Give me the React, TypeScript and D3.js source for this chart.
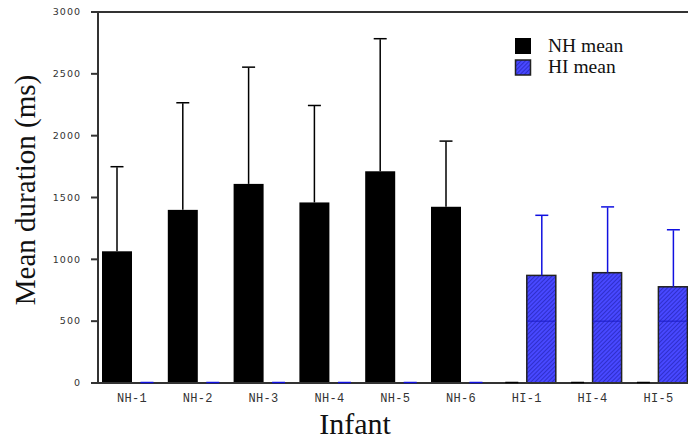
import React from 'react'
import * as d3 from 'd3'

const infants = ['NH-1', 'NH-2', 'NH-3', 'NH-4', 'NH-5', 'NH-6', 'HI-1', 'HI-4', 'HI-5']
const nhMean = [1065, 1400, 1610, 1460, 1712, 1425, 0, 0, 0]
const nhErr = [1745, 2262, 2550, 2240, 2780, 1952, 0, 0, 0]
const hiMean = [0, 0, 0, 0, 0, 0, 870, 892, 778]
const hiErr = [0, 0, 0, 0, 0, 0, 1352, 1420, 1235]
const yTicks = [0, 500, 1000, 1500, 2000, 2500, 3000]
const series = ['NH mean', 'HI mean']

const W = 688
const H = 441
const left = 98
const top = 12
const bottom = 383
const step = 65.8

const App = () => {
  const y = d3.scaleLinear().domain([0, 3000]).range([bottom, top])
  const x0 = d3
    .scaleBand()
    .domain(infants)
    .range([left + 4, left + 4 + step * infants.length])
  const x1 = d3.scaleBand().domain(series).range([0, 60])
  const bw = x1.bandwidth()
  const cap = 6.5

  const rows = infants.map((name, i) => ({
    name,
    nh: nhMean[i],
    nhE: nhErr[i],
    hi: hiMean[i],
    hiE: hiErr[i],
  }))

  return (
    <svg
      width={W}
      height={H}
      style={{position: 'absolute', left: 0, top: 0, background: 'white'}}
    >
      <defs>
        <pattern id="hatch" width="3" height="3" patternUnits="userSpaceOnUse" patternTransform="rotate(45)">
          <rect width="3" height="3" fill="#4848ff" />
          <line x1="0" y1="0" x2="0" y2="3" stroke="#1a1aa0" strokeWidth="1.1" />
        </pattern>
      </defs>

      {/* bars */}
      {rows.map((d) => {
        const gx = x0(d.name)!
        const bx = gx + x1('NH mean')!
        const hx = gx + x1('HI mean')!
        return (
          <g key={d.name}>
            <rect x={bx} y={y(d.nh)} width={bw} height={bottom - y(d.nh)} fill="black" />
            {d.hi > 0 && (
              <g>
                <rect
                  x={hx}
                  y={y(d.hi)}
                  width={bw - 1}
                  height={bottom - y(d.hi)}
                  fill="url(#hatch)"
                  stroke="#222"
                  strokeWidth={1.5}
                />
                <line x1={hx} x2={hx + bw - 1} y1={y(500)} y2={y(500)} stroke="#1c1cc8" strokeWidth={1} />
              </g>
            )}
          </g>
        )
      })}

      {/* frame */}
      <line x1={left} x2={W} y1={top} y2={top} stroke="#333" strokeWidth={2} />
      <line x1={left} x2={W} y1={bottom} y2={bottom} stroke="#333" strokeWidth={2} />
      <line x1={left} x2={left} y1={top - 1} y2={bottom + 1} stroke="#333" strokeWidth={2} />

      {/* error bars */}
      {rows.map((d) => {
        const gx = x0(d.name)!
        const bc = gx + x1('NH mean')! + bw / 2
        const hc = gx + x1('HI mean')! + bw / 2
        return (
          <g key={d.name + '-err'}>
            <line x1={bc} x2={bc} y1={y(d.nh)} y2={y(d.nhE)} stroke="black" strokeWidth={1.5} />
            <line x1={bc - cap} x2={bc + cap} y1={y(d.nhE) - 0.5} y2={y(d.nhE) - 0.5} stroke="black" strokeWidth={1.5} />
            <line x1={hc} x2={hc} y1={y(d.hi)} y2={y(d.hiE)} stroke="#1010e0" strokeWidth={1.5} />
            <line x1={hc - cap} x2={hc + cap} y1={y(d.hiE) - 0.5} y2={y(d.hiE) - 0.5} stroke="#1010e0" strokeWidth={1.5} />
          </g>
        )
      })}

      {/* y ticks */}
      {yTicks.map((t) => (
        <g key={t}>
          <line x1={left - 7} x2={left} y1={y(t)} y2={y(t)} stroke="#333" strokeWidth={2} />
          <text
            x={81}
            y={y(t)}
            dy="0.35em"
            textAnchor="end"
            fontFamily="DejaVu Sans"
            fontSize={9.5}
            letterSpacing={1}
            fill="#333"
          >
            {t}
          </text>
        </g>
      ))}

      {/* x labels */}
      {infants.map((name) => (
        <text
          key={name}
          x={x0(name)! + 30}
          y={402}
          textAnchor="middle"
          fontFamily="Liberation Mono"
          fontSize={12}
          letterSpacing={0.3}
          fill="#333"
        >
          {name}
        </text>
      ))}

      {/* axis titles */}
      <text x={355} y={434} textAnchor="middle" fontFamily="Liberation Serif" fontSize={30} fill="#111">
        Infant
      </text>
      <text
        transform={`translate(35 ${190}) rotate(-90)`}
        textAnchor="middle"
        fontFamily="Liberation Serif"
        fontSize={29}
        fill="#111"
      >
        Mean duration (ms)
      </text>

      {/* legend */}
      <rect x={515} y={38} width={16} height={16} fill="black" />
      <rect x={515.5} y={60} width={15} height={15} fill="url(#hatch)" stroke="#222" strokeWidth={1.5} />
      <text x={548} y={52} fontFamily="Liberation Serif" fontSize={19.5} fill="#111">
        NH mean
      </text>
      <text x={548} y={73} fontFamily="Liberation Serif" fontSize={19.5} fill="#111">
        HI mean
      </text>
    </svg>
  )
}

export default App
